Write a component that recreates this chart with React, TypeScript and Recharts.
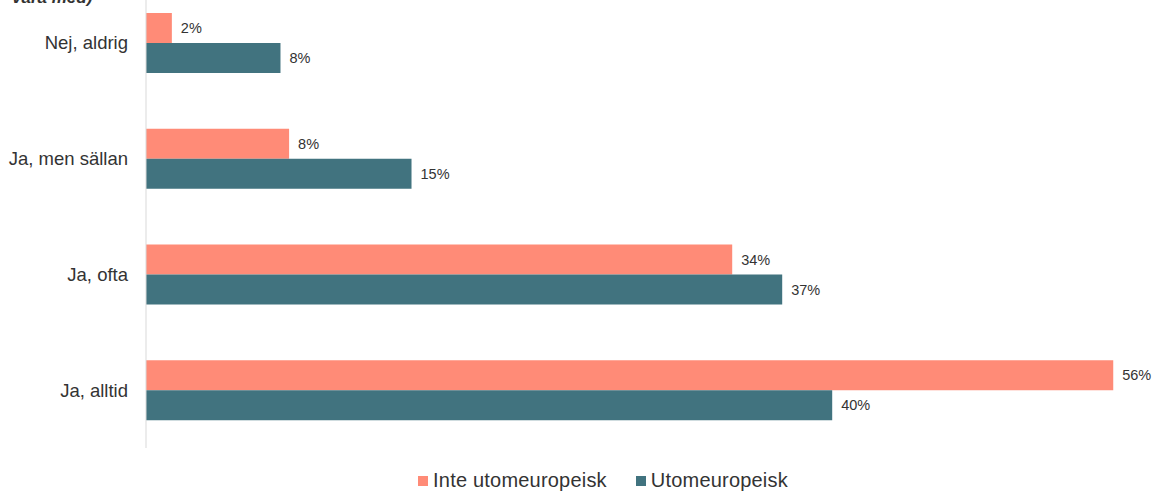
import React from 'react';
import { BarChart, Bar, XAxis, YAxis, Legend, LabelList } from 'recharts';

const categories = ['Nej, aldrig', 'Ja, men sällan', 'Ja, ofta', 'Ja, alltid'];
const inteUtomeuropeisk = [1.5, 8.3, 34.0, 56.1];
const utomeuropeisk = [7.8, 15.4, 36.9, 39.8];
const seriesNames = ['Inte utomeuropeisk', 'Utomeuropeisk'];
const colors = ['#FF8B77', '#41737F'];

const data = categories.map((c, i) => ({
  name: c,
  a: inteUtomeuropeisk[i],
  b: utomeuropeisk[i],
}));

const fmt = (v: any) => `${Math.round(Number(v))}%`;

const renderLegend = () => (
  <div style={{ display: 'flex', justifyContent: 'center', alignItems: 'center', height: 23, lineHeight: '23px', fontFamily: 'Liberation Sans, Arial, sans-serif', fontSize: 20, letterSpacing: 0.2, color: '#333' }}>
    {seriesNames.map((n, i) => (
      <div key={n} style={{ display: 'flex', alignItems: 'center', marginRight: i === 0 ? 29 : 0 }}>
        <span style={{ display: 'inline-block', width: 10, height: 10, background: colors[i], marginRight: 5 }} />
        <span>{n}</span>
      </div>
    ))}
  </div>
);

const labelStyle = { fill: '#333', fontSize: 14.5, fontFamily: 'Liberation Sans, Arial, sans-serif' };

export default function App() {
  return (
    <div style={{ position: 'absolute', left: 0, top: 0, width: 1156, height: 491, overflow: 'hidden', background: '#fff' }}>
      <div style={{ position: 'absolute', left: 12, top: -12, fontFamily: 'Liberation Sans, Arial, sans-serif', fontSize: 17, fontWeight: 'bold', fontStyle: 'italic', color: '#333', whiteSpace: 'nowrap', lineHeight: '20px' }}>
        vara med)
      </div>
      <div style={{ position: 'absolute', left: 0, top: -40 }}>
        <BarChart
          width={1206}
          height={545}
          data={data}
          layout="vertical"
          margin={{ top: 25, right: 60, left: 0, bottom: 34 }}
          barGap={0}
          barSize={30}
        >
          <XAxis type="number" domain={[0, 58]} hide />
          <YAxis
            type="category"
            dataKey="name"
            width={146}
            tickLine={false}
            tickSize={0}
            tickMargin={18}
            axisLine={{ stroke: '#d9d9d9', strokeWidth: 1 }}
            tick={{ fill: '#333', fontSize: 18.5, fontFamily: 'Liberation Sans, Arial, sans-serif' }}
          />
          <Legend verticalAlign="bottom" content={renderLegend} wrapperStyle={{ left: 0, width: 1206, top: 509, bottom: 'auto' }} />
          <Bar dataKey="a" name={seriesNames[0]} fill={colors[0]} isAnimationActive={false}>
            <LabelList dataKey="a" position="right" offset={9} formatter={fmt} style={labelStyle} />
          </Bar>
          <Bar dataKey="b" name={seriesNames[1]} fill={colors[1]} isAnimationActive={false}>
            <LabelList dataKey="b" position="right" offset={9} formatter={fmt} style={labelStyle} />
          </Bar>
        </BarChart>
      </div>
    </div>
  );
}
